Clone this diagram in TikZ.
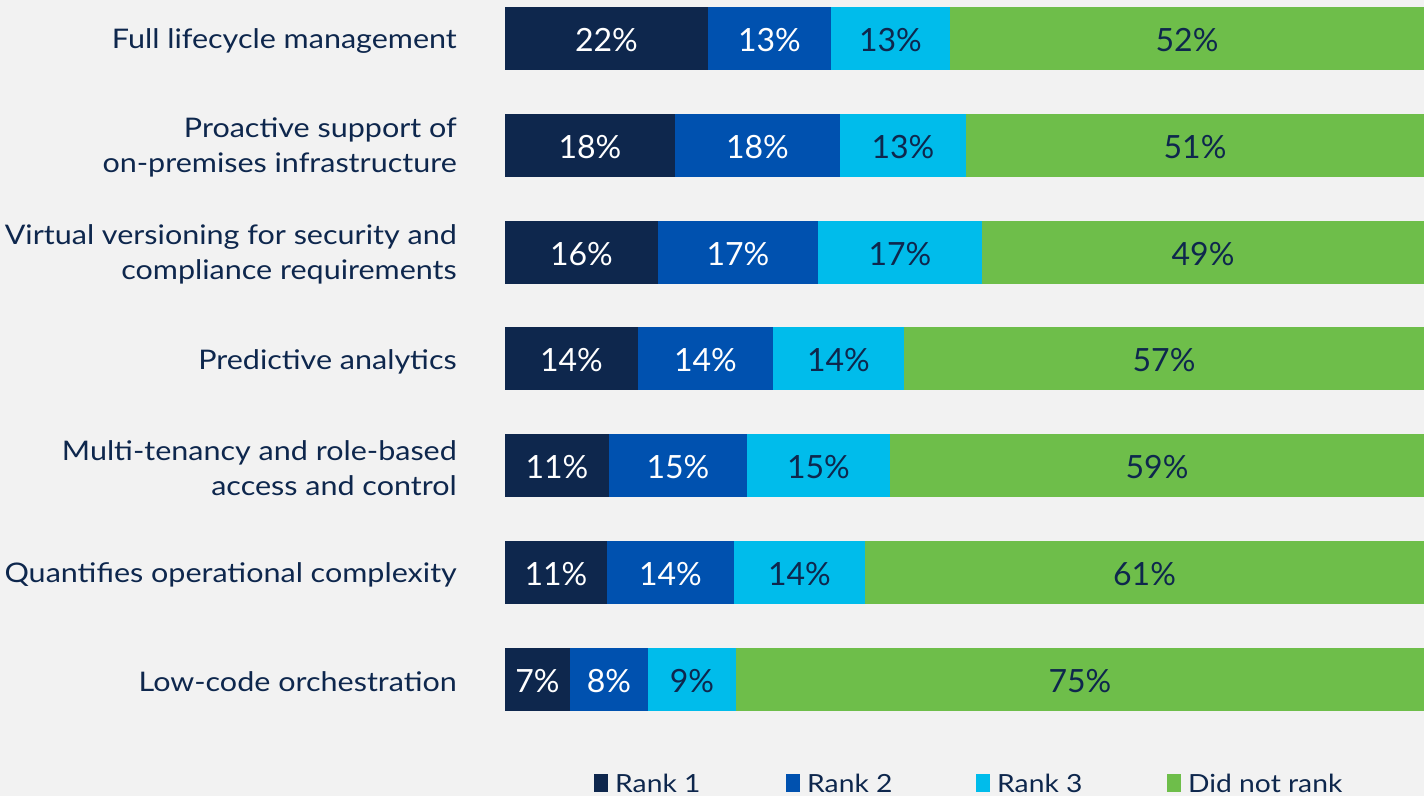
\documentclass[tikz,border=0pt]{standalone}
\usepackage{fontspec}
\setmainfont{Lato}
\newfontfamily\widefont{Lato}[FakeStretch=1.13]
\definecolor{bgcolor}{HTML}{F2F2F2}
\definecolor{rankone}{HTML}{0E274D}
\definecolor{ranktwo}{HTML}{0051AF}
\definecolor{rankthree}{HTML}{00BCEB}
\definecolor{notrank}{HTML}{6EBE4A}
\definecolor{textnavy}{HTML}{0E274D}

\begin{document}
\begin{tikzpicture}[x=1pt, y=-1pt,
    rowlabel/.style={anchor=east, align=right, inner sep=0pt, text=textnavy,
      font=\widefont\fontsize{27}{35}\selectfont},
    barlabel/.style={inner sep=0pt, font=\fontsize{32}{38}\selectfont},
    keylabel/.style={anchor=base west, inner sep=0pt, text=textnavy,
      font=\widefont\fontsize{25}{30}\selectfont}]

      % Draw the background
      \fill[bgcolor] (0,0) rectangle (1424,796);
      \useasboundingbox (0,0) rectangle (1424,796);

      % Draw the stacked bars
      \foreach \i/\a/\b/\c/\pa/\pb/\pc/\pd in {
          0/708/831/950/22/13/13/52,
          1/675/840/966/18/18/13/51,
          2/658/818/982/16/17/17/49,
          3/638/773/904/14/14/14/57,
          4/609/747/890/11/15/15/59,
          5/607/734/865/11/14/14/61,
          6/570/648/736/7/8/9/75}
      {
        \pgfmathsetmacro\ytop{7+106.8*\i}
        \fill[rankone] (505,\ytop) rectangle (\a,\ytop+63);
        \fill[ranktwo] (\a,\ytop) rectangle (\b,\ytop+63);
        \fill[rankthree] (\b,\ytop) rectangle (\c,\ytop+63);
        \fill[notrank] (\c,\ytop) rectangle (1424,\ytop+63);
        \node[barlabel, text=white] (one\i) at ({(505+\a)/2},\ytop+33) {\pa\%};
        \node[barlabel, text=white] (two\i) at ({(\a+\b)/2},\ytop+33) {\pb\%};
        \node[barlabel, text=textnavy] (three\i) at ({(\b+\c)/2},\ytop+33) {\pc\%};
        \node[barlabel, text=textnavy] (none\i) at ({(\c+1424)/2},\ytop+33) {\pd\%};
      }

      % Add labels for the rows
      \foreach \i/\txt in {
          0/{Full lifecycle management},
          1/{Proactive support of\\on-premises infrastructure},
          2/{Virtual versioning for security and\\compliance requirements},
          3/{Predictive analytics},
          4/{Multi-tenancy and role-based\\access and control},
          5/{Quantifies operational complexity},
          6/{Low-code orchestration}}
      {
        \node[rowlabel] (label\i) at (457,{7+106.8*\i+34}) {\txt};
      }

      % Add the legend
      \foreach \k/\col/\x/\txt in {1/rankone/594/Rank 1, 2/ranktwo/786/Rank 2,
          3/rankthree/976/Rank 3, 4/notrank/1167/Did not rank}
      {
        \fill[\col] (\x,774) rectangle (\x+14,792);
        \node[keylabel] (key\k) at (\x+21,792) {\txt};
      }
  \end{tikzpicture}
\end{document}
